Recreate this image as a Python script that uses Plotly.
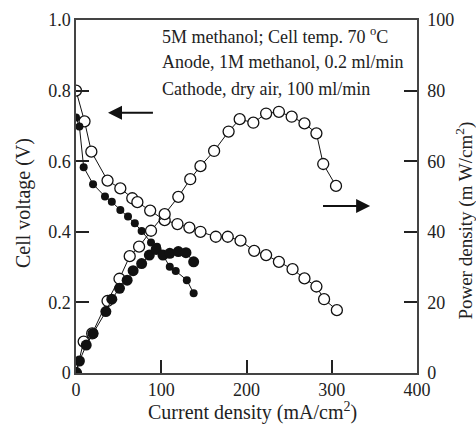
import plotly.graph_objects as go

# Open circles (cell A)
open_v_x = [0, 10, 18, 37, 52, 66, 72, 87, 104, 119, 133, 146, 164, 178, 193, 209, 223, 238, 254, 268, 282, 291, 306]
open_v_y = [0.80, 0.713, 0.627, 0.545, 0.523, 0.495, 0.484, 0.460, 0.433, 0.422, 0.412, 0.400, 0.386, 0.386, 0.375, 0.346, 0.334, 0.315, 0.294, 0.268, 0.245, 0.209, 0.178]

open_p_x = [0, 9, 19, 37, 51, 63, 74, 88, 104, 120, 134, 146, 162, 179, 192, 208, 223, 238, 253, 268, 282, 290, 305]
open_p_y = [0, 8.9, 11.2, 20.4, 26.7, 33.1, 35.8, 40.3, 45.0, 49.9, 54.9, 58.6, 62.9, 68.4, 71.9, 70.9, 73.5, 74.0, 72.6, 70.7, 67.9, 59.2, 53.0]

# Filled circles (cell B)
fill_v_x = [0, 4, 9, 20, 34, 42, 52, 61, 69, 77, 88, 95, 102, 110, 117, 130, 138]
fill_v_y = [0.724, 0.698, 0.583, 0.535, 0.500, 0.485, 0.462, 0.443, 0.424, 0.402, 0.370, 0.358, 0.334, 0.301, 0.289, 0.263, 0.226]

fill_p_x = [0, 4, 12, 20, 35, 42, 51, 60, 67, 77, 86, 94, 102, 110, 120, 129, 138]
fill_p_y = [0, 3.4, 7.9, 11.2, 17.4, 20.9, 24.0, 26.3, 29.0, 31.0, 33.4, 35.0, 33.4, 33.9, 34.4, 34.1, 31.5]

x_ticks = [0, 100, 200, 300, 400]
y_ticks = [0, 0.2, 0.4, 0.6, 0.8, 1.0]
y_ticklabels = ["0", "0.2", "0.4", "0.6", "0.8", "1.0"]
y2_ticks = [0, 20, 40, 60, 80, 100]

FONT = "Liberation Serif"
INK = "#222222"

fig = go.Figure()

open_marker = dict(symbol="circle", size=11, color="white", line=dict(color="#111", width=1.3))
line_style = dict(color="#111", width=1)

fig.add_trace(go.Scatter(x=open_v_x, y=open_v_y, mode="lines+markers",
                         marker=open_marker, line=line_style, showlegend=False))
fig.add_trace(go.Scatter(x=fill_v_x, y=fill_v_y, mode="lines+markers",
                         marker=dict(size=8, color="#111"), line=line_style, showlegend=False))
fig.add_trace(go.Scatter(x=open_p_x, y=open_p_y, mode="lines+markers", yaxis="y2",
                         marker=open_marker, line=line_style, showlegend=False))
fig.add_trace(go.Scatter(x=fill_p_x, y=fill_p_y, mode="lines+markers", yaxis="y2",
                         marker=dict(size=11, color="#111"), line=line_style, showlegend=False))

axis_common = dict(showgrid=False, zeroline=False, ticks="inside", ticklen=13, tickwidth=2,
                   tickcolor="#222", showline=True, linecolor="#444", linewidth=1.5,
                   automargin=False,
                   tickfont=dict(family=FONT, size=18, color=INK))

fig.update_layout(
    width=476, height=428,
    margin=dict(l=76, r=59, t=20, b=55),
    paper_bgcolor="white", plot_bgcolor="white",
    font=dict(family=FONT, color=INK),
    xaxis=dict(range=[0, 400], tickvals=x_ticks, mirror=True, **axis_common),
    yaxis=dict(range=[0, 1.0], tickvals=y_ticks, ticktext=y_ticklabels, **axis_common),
    yaxis2=dict(range=[0, 100], tickvals=y2_ticks, overlaying="y", side="right",
                ticklabelstandoff=5, **axis_common),
)

# axis titles
fig.add_annotation(text="Current density (mA/cm<sup>2</sup>)", xref="paper", yref="paper",
                   x=0.517, y=-0.108, xanchor="center", yanchor="middle", showarrow=False,
                   font=dict(family=FONT, size=20, color=INK))
fig.add_annotation(text="Cell voltage (V)", xref="paper", yref="paper", textangle=-90,
                   x=-0.152, y=0.482, xanchor="center", yanchor="middle", showarrow=False,
                   font=dict(family=FONT, size=20, color=INK))
fig.add_annotation(text="Power density (m W/cm<sup>2</sup>)", xref="paper", yref="paper", textangle=-90,
                   x=1.14, y=0.431, xanchor="center", yanchor="middle", showarrow=False,
                   font=dict(family=FONT, size=19, color=INK))

texts = ["5M methanol; Cell temp. 70 <sup>o</sup>C",
         "Anode, 1M methanol, 0.2 ml/min",
         "Cathode, dry air, 100 ml/min"]
ys = [0.9575, 0.881, 0.8045]
for t, yy in zip(texts, ys):
    fig.add_annotation(text=t, xref="paper", yref="paper", x=0.246, y=yy,
                       xanchor="left", yanchor="middle", showarrow=False,
                       font=dict(family=FONT, size=18, color=INK))

# direction arrows
fig.add_annotation(x=37.5, y=0.737, ax=92, ay=0.737, xref="x", yref="y", axref="x", ayref="y",
                   text="", showarrow=True, arrowhead=2, arrowsize=1.4, arrowwidth=2, arrowcolor="#111")
fig.add_annotation(x=345, y=0.473, ax=288, ay=0.473, xref="x", yref="y", axref="x", ayref="y",
                   text="", showarrow=True, arrowhead=2, arrowsize=1.4, arrowwidth=2, arrowcolor="#111")

fig.write_html("out.html")
